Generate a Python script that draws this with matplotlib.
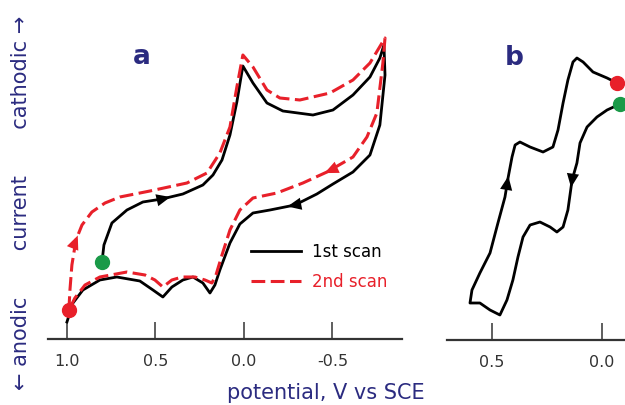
import matplotlib.pyplot as plt
import numpy as np

# panel a, 1st scan (black): potential in V, current in arbitrary units
v1 = [0.802, 0.791, 0.746, 0.661, 0.571, 0.463, 0.345, 0.232, 0.175, 0.124, 0.079, 0.040, 0.006,
      -0.051, -0.130, -0.220, -0.390, -0.503, -0.616, -0.712, -0.768, -0.791, -0.797,
      -0.768, -0.712, -0.616, -0.503, -0.412, -0.288, -0.147, -0.051, 0.023, 0.079, 0.136,
      0.164, 0.192, 0.232, 0.288, 0.345, 0.407, 0.458, 0.514, 0.588, 0.718, 0.814, 0.910, 0.966, 1.0]
i1 = [7.7, 9.4, 11.6, 12.9, 13.7, 14.0, 14.5, 15.4, 16.4, 17.9, 20.4, 23.7, 27.3,
      25.6, 23.6, 22.8, 22.4, 22.9, 24.4, 26.2, 28.1, 29.4, 26.4,
      21.4, 18.4, 16.7, 15.5, 14.5, 13.4, 12.9, 12.6, 11.5, 9.6, 6.9,
      5.4, 4.6, 5.6, 6.2, 5.9, 5.2, 4.2, 4.9, 5.8, 6.2, 5.9, 4.9, 3.6, 1.7]

# panel a, 2nd scan (red dashed)
v2 = [0.989, 0.983, 0.972, 0.949, 0.915, 0.859, 0.785, 0.701, 0.531, 0.322, 0.209, 0.136, 0.079,
      0.040, 0.006, -0.051, -0.130, -0.203, -0.316, -0.486, -0.616, -0.712, -0.797,
      -0.785, -0.751, -0.695, -0.616, -0.469, -0.333, -0.186, -0.051, 0.023, 0.079, 0.124,
      0.158, 0.181, 0.220, 0.277, 0.350, 0.407, 0.458, 0.503, 0.559, 0.661, 0.814, 0.898, 0.955, 0.989]
i2 = [2.9, 4.9, 7.4, 9.9, 11.4, 12.7, 13.6, 14.2, 14.8, 15.6, 16.6, 18.6, 21.2,
      25.2, 28.4, 27.2, 24.9, 24.1, 23.9, 24.6, 25.9, 27.6, 30.1,
      27.6, 22.6, 20.2, 18.2, 16.7, 15.6, 14.6, 14.1, 12.9, 10.9, 8.4,
      6.4, 5.6, 5.9, 6.2, 6.2, 5.9, 5.2, 5.9, 6.4, 6.7, 6.2, 5.4, 4.1, 2.9]

# panel b scan (black)
vb = [-0.082, -0.023, 0.023, 0.068, 0.100, 0.114, 0.136, 0.155, 0.177, 0.205, 0.236, 0.282, 0.327,
      0.359, 0.382, 0.405, 0.432, 0.464, 0.509, 0.555, 0.600, 0.591, 0.555, 0.509, 0.473,
      0.441, 0.427, 0.409, 0.395, 0.373, 0.327, 0.268, 0.223, 0.200, 0.177, 0.155, 0.132,
      0.114, 0.086, 0.041, -0.023, -0.068]
ib = [23.6, 23.0, 22.3, 21.3, 19.7, 17.7, 16.0, 13.0, 11.3, 10.8, 11.3, 11.8, 11.5,
      10.3, 8.3, 6.0, 4.0, 2.5, 3.0, 3.7, 3.7, 5.0, 6.7, 8.7, 11.7,
      14.3, 16.2, 18.3, 19.5, 19.8, 19.3, 18.8, 19.3, 21.0, 23.7, 26.0, 27.8,
      28.2, 27.8, 26.8, 26.2, 25.7]

ticks_a = [1.0, 0.5, 0.0, -0.5]
ticks_b = [0.5, 0.0]

navy = '#2b2b80'
red = '#e8202a'
green = '#1a9a48'


def arrow(ax, v, i, k, f, color, ms=20):
    x0, y0 = v[k], i[k]
    x1 = v[k] + f * (v[k + 1] - v[k])
    y1 = i[k] + f * (i[k + 1] - i[k])
    ax.annotate('', xy=(x1, y1), xytext=(x0, y0),
                arrowprops=dict(arrowstyle='-|>,head_length=0.5,head_width=0.22',
                                color=color, lw=0, shrinkA=0, shrinkB=0,
                                mutation_scale=ms))


def style(ax, ticks):
    for s in ['top', 'right', 'left']:
        ax.spines[s].set_visible(False)
    ax.spines['bottom'].set_color('#333333')
    ax.spines['bottom'].set_linewidth(1.6)
    ax.set_yticks([])
    ax.set_xticks(ticks)
    ax.set_xticklabels([f'{t:.1f}' for t in ticks])
    ax.tick_params(axis='x', direction='in', length=12, width=1.1, color='#333333',
                   labelsize=11.5, labelcolor='#333333', pad=11)
    ax.set_ylim(0, 32)
    ax.patch.set_visible(False)


fig = plt.figure(figsize=(6.25, 4.05), dpi=100)

ax = fig.add_axes([48 / 625, 66 / 405, 354 / 625, 320 / 405])
style(ax, ticks_a)
ax.set_xlim(1.107, -0.893)
ax.plot(v1, i1, color='black', lw=2.0, solid_joinstyle='round', label='1st scan', zorder=3)
ax.plot(v2, i2, color=red, lw=2.2, dashes=(4.5, 1.8), label='2nd scan', zorder=4)
arrow(ax, v1, i1, 5, 0.4, 'black')
arrow(ax, v1, i1, 28, 0.3, 'black')
arrow(ax, v2, i2, 3, 0.3, red)
arrow(ax, v2, i2, 27, 0.1, red)
ax.plot(v2[0], i2[0], 'o', color=red, ms=10, zorder=5, clip_on=False)
ax.plot(v1[0], i1[0], 'o', color=green, ms=10, zorder=5, clip_on=False)
leg = ax.legend(loc='center left', bbox_to_anchor=(0.53, 0.225), frameon=False,
                fontsize=12, handlelength=3.0, handletextpad=0.7, labelspacing=0.75,
                labelcolor='linecolor')
ax.text(0.265, 0.88, 'a', transform=ax.transAxes, fontsize=19, fontweight='bold',
        color=navy, ha='center', va='center')

bx = fig.add_axes([447 / 625, 65 / 405, 178 / 625, 320 / 405])
style(bx, ticks_b)
bx.set_xlim(0.7045, -0.1045)
bx.plot(vb, ib, color='black', lw=2.0, solid_joinstyle='round', zorder=3)
arrow(bx, vb, ib, 6, 0.25, 'black')
arrow(bx, vb, ib, 25, 1.1, 'black')
bx.plot(vb[-1], ib[-1], 'o', color=red, ms=10, zorder=5, clip_on=False)
bx.plot(vb[0], ib[0], 'o', color=green, ms=10, zorder=5, clip_on=False)
bx.text(0.38, 0.88, 'b', transform=bx.transAxes, fontsize=19, fontweight='bold',
        color=navy, ha='center', va='center')

fig.text(0.522, 0.03, 'potential, V vs SCE', fontsize=15, color=navy, ha='center', va='center')
fig.text(0.033, 0.5, '\u2190 anodic       current       cathodic \u2192', fontsize=15,
         color=navy, rotation=90, ha='center', va='center')

fig.savefig('out.png', dpi=100)
